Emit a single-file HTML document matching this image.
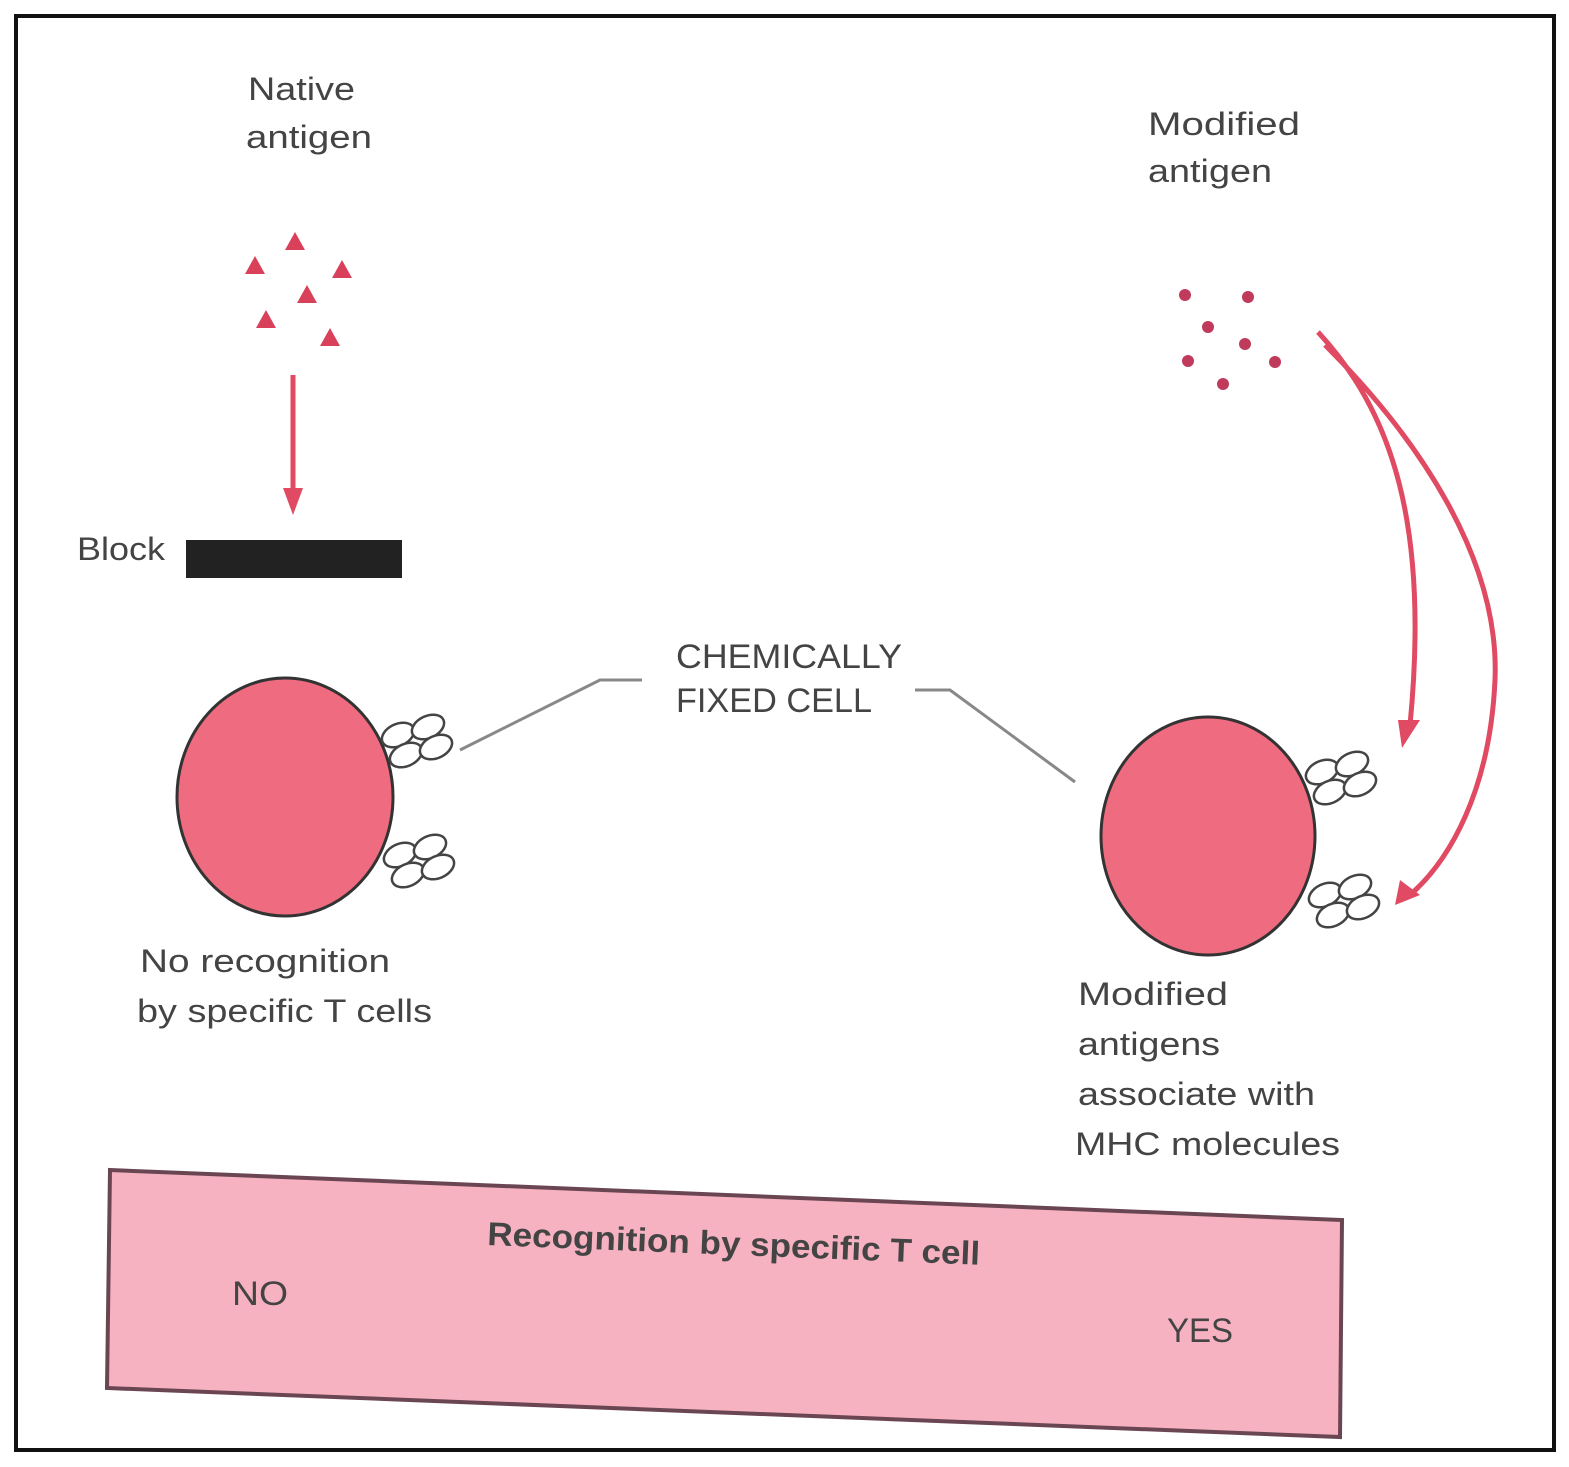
<!DOCTYPE html>
<html><head><meta charset="utf-8"><style>
html,body{margin:0;padding:0;background:#fff;width:1569px;height:1467px;overflow:hidden}
svg{display:block}
text{font-family:"Liberation Sans",sans-serif;fill:#444}
</style></head><body>
<svg width="1569" height="1467" viewBox="0 0 1569 1467">
<defs>
<g id="mhc">
<ellipse cx="0" cy="0" rx="17" ry="11" fill="#fff" stroke="#444" stroke-width="2.5" transform="rotate(-25)"/>
<ellipse cx="30" cy="-8" rx="17" ry="11" fill="#fff" stroke="#444" stroke-width="2.5" transform="rotate(-25 30 -8)"/>
<ellipse cx="8" cy="20" rx="17" ry="11" fill="#fff" stroke="#444" stroke-width="2.5" transform="rotate(-25 8 20)"/>
<ellipse cx="38" cy="12" rx="17" ry="11" fill="#fff" stroke="#444" stroke-width="2.5" transform="rotate(-25 38 12)"/>
</g>
</defs>
<rect x="16" y="16" width="1538" height="1434" fill="none" stroke="#111" stroke-width="4"/>

<g>
<text x="248" y="100" font-size="32" textLength="107" lengthAdjust="spacingAndGlyphs">Native</text>
<text x="246" y="148" font-size="32" textLength="126" lengthAdjust="spacingAndGlyphs">antigen</text>
</g>
<g fill="#d9405a">
<polygon points="255,256 245,274 265,274"/>
<polygon points="295,232 285,250 305,250"/>
<polygon points="342,260 332,278 352,278"/>
<polygon points="307,285 297,303 317,303"/>
<polygon points="266,310 256,328 276,328"/>
<polygon points="330,328 320,346 340,346"/>
</g>
<g>
<line x1="293" y1="375" x2="293" y2="495" stroke="#e04a62" stroke-width="5"/>
<polygon points="283,488 303,488 293,515" fill="#e04a62"/>
</g>
<text x="77" y="560" font-size="32" textLength="88" lengthAdjust="spacingAndGlyphs">Block</text>
<rect x="186" y="540" width="216" height="38" fill="#222"/>

<g>
<ellipse cx="285" cy="797" rx="108" ry="119" fill="#ee6b80" stroke="#333" stroke-width="3"/>
<use href="#mhc" x="398" y="735"/>
<use href="#mhc" x="400" y="855"/>
</g>
<g>
<text x="140" y="972" font-size="32" textLength="250" lengthAdjust="spacingAndGlyphs">No recognition</text>
<text x="137" y="1022" font-size="32" textLength="295" lengthAdjust="spacingAndGlyphs">by specific T cells</text>
</g>

<g>
<text x="676" y="668" font-size="34" fill="#333" textLength="226" lengthAdjust="spacingAndGlyphs">CHEMICALLY</text>
<text x="676" y="712" font-size="34" fill="#333" textLength="196" lengthAdjust="spacingAndGlyphs">FIXED CELL</text>
</g>
<polyline points="460,750 600,680 642,680" fill="none" stroke="#888" stroke-width="3"/>
<polyline points="915,690 950,690 1075,782" fill="none" stroke="#888" stroke-width="3"/>

<g>
<text x="1148" y="135" font-size="32" textLength="152" lengthAdjust="spacingAndGlyphs">Modified</text>
<text x="1148" y="182" font-size="32" textLength="124" lengthAdjust="spacingAndGlyphs">antigen</text>
</g>
<g fill="#c03a5c">
<circle cx="1185" cy="295" r="6"/><circle cx="1248" cy="297" r="6"/>
<circle cx="1208" cy="327" r="6"/><circle cx="1245" cy="344" r="6"/>
<circle cx="1188" cy="361" r="6"/><circle cx="1275" cy="362" r="6"/>
<circle cx="1223" cy="384" r="6"/>
</g>
<g fill="none" stroke="#e04a62" stroke-width="5">
<path d="M1318,332 C1390,410 1430,520 1410,725"/>
<path d="M1325,345 C1420,440 1500,560 1495,680 C1490,790 1450,860 1410,895"/>
</g>
<polygon points="1398,720 1420,720 1402,748" fill="#e04a62"/>
<polygon points="1400,880 1420,895 1395,905" fill="#e04a62"/>

<g>
<ellipse cx="1208" cy="836" rx="107" ry="119" fill="#ee6b80" stroke="#333" stroke-width="3"/>
<use href="#mhc" x="1322" y="772"/>
<use href="#mhc" x="1325" y="895"/>
</g>
<g>
<text x="1078" y="1005" font-size="32" textLength="150" lengthAdjust="spacingAndGlyphs">Modified</text>
<text x="1078" y="1055" font-size="32" textLength="142" lengthAdjust="spacingAndGlyphs">antigens</text>
<text x="1078" y="1105" font-size="32" textLength="237" lengthAdjust="spacingAndGlyphs">associate with</text>
<text x="1075" y="1155" font-size="32" textLength="265" lengthAdjust="spacingAndGlyphs">MHC molecules</text>
</g>

<g>
<polygon points="110,1170 1342,1220 1340,1437 107,1388" fill="#f7b2c2" stroke="#6a4652" stroke-width="4"/>
<text x="487" y="1245" font-size="33" font-weight="bold" fill="#3a2028" transform="rotate(2.3 487 1245)" textLength="493" lengthAdjust="spacingAndGlyphs">Recognition by specific T cell</text>
<text x="232" y="1305" font-size="34" fill="#6a4a55" textLength="56" lengthAdjust="spacingAndGlyphs">NO</text>
<text x="1167" y="1342" font-size="34" fill="#6a4a55" textLength="66" lengthAdjust="spacingAndGlyphs">YES</text>
</g>
</svg>
</body></html>
